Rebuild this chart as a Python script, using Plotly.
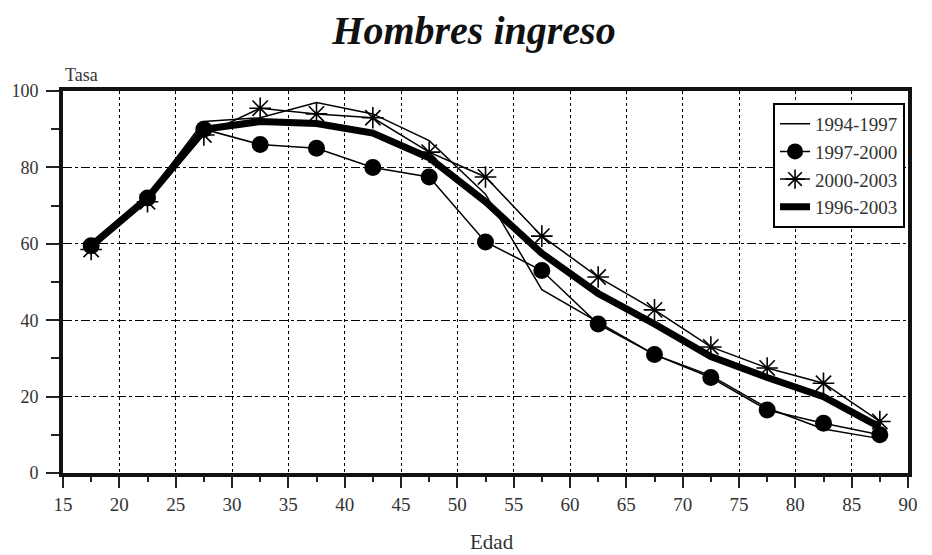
import plotly.graph_objects as go

edad = [17.5, 22.5, 27.5, 32.5, 37.5, 42.5, 47.5, 52.5, 57.5, 62.5, 67.5, 72.5, 77.5, 82.5, 87.5]
s_1994_1997 = [60, 72.5, 92, 93, 97, 94, 87, 73, 48, 39.5, 31, 25.5, 17, 11.5, 9]
s_1997_2000 = [59.5, 72, 90, 86, 85, 80, 77.5, 60.5, 53, 39, 31, 25, 16.5, 13, 10]
s_2000_2003 = [58.5, 71, 88.5, 95.5, 94, 93, 84, 77.5, 62, 51.3, 42.7, 33, 27.5, 23.5, 13.5]
s_1996_2003 = [59.5, 72, 90, 92, 91.5, 89, 82.5, 71, 57.5, 47, 39, 30.5, 25, 20, 12]

x_ticks = [15, 20, 25, 30, 35, 40, 45, 50, 55, 60, 65, 70, 75, 80, 85, 90]
y_ticks = [0, 20, 40, 60, 80, 100]

serif = "Liberation Serif, Times New Roman, serif"

fig = go.Figure()
fig.add_trace(go.Scatter(x=edad, y=s_1994_1997, name="1994-1997", mode="lines",
                         line=dict(color="black", width=1.5)))
fig.add_trace(go.Scatter(x=edad, y=s_1997_2000, name="1997-2000", mode="lines+markers",
                         line=dict(color="black", width=1.5),
                         marker=dict(symbol="circle", size=17, color="black")))
fig.add_trace(go.Scatter(x=edad, y=s_2000_2003, name="2000-2003", mode="lines+markers",
                         line=dict(color="black", width=1.5),
                         marker=dict(symbol="asterisk-open", size=18,
                                     line=dict(color="black", width=1.6))))
fig.add_trace(go.Scatter(x=edad, y=s_1996_2003, name="1996-2003", mode="lines",
                         line=dict(color="black", width=7)))

fig.update_layout(
    width=932, height=555,
    margin=dict(l=55, r=32, t=83, b=90, autoexpand=False),
    paper_bgcolor="white", plot_bgcolor="white",
    font=dict(family=serif, color="#333", size=19),
    title=dict(text="<b><i>Hombres ingreso</i></b>", x=0.5, xanchor="center",
               y=0.96, yanchor="middle",
               font=dict(family=serif, size=40, color="#111")),
    showlegend=True,
    legend=dict(x=0.9965, y=0.969, xanchor="right", yanchor="top",
                bgcolor="white", bordercolor="black", borderwidth=2,
                font=dict(family=serif, size=19, color="#333"),
                itemwidth=30, tracegroupgap=0),
    annotations=[
        dict(text="Tasa", x=0.022, y=1.042, xref="paper", yref="paper",
             xanchor="center", yanchor="middle", showarrow=False,
             font=dict(size=18)),
        dict(text="Edad", x=0.508, y=-0.181, xref="paper", yref="paper",
             xanchor="center", yanchor="middle", showarrow=False,
             font=dict(size=21)),
    ],
)

fig.update_xaxes(range=[15, 90], tickvals=x_ticks, ticks="outside", ticklen=11,
                 tickwidth=2, tickcolor="#222", automargin=False,
                 minor=dict(ticks="outside", dtick=2.5, tick0=15, ticklen=5,
                            tickwidth=2, tickcolor="#222", showgrid=False),
                 showline=True, linecolor="#111", linewidth=4, mirror=True,
                 showgrid=True, gridcolor="black", gridwidth=1.3, griddash="dot",
                 zeroline=False, tickfont=dict(size=19))
fig.update_yaxes(range=[0, 100], tickvals=y_ticks, ticks="outside", ticklen=13,
                 tickwidth=2, tickcolor="#222", automargin=False,
                 minor=dict(ticks="outside", dtick=10, tick0=0, ticklen=8,
                            tickwidth=2, tickcolor="#222", showgrid=False),
                 showline=True, linecolor="#111", linewidth=4, mirror=True,
                 showgrid=True, gridcolor="black", gridwidth=1.3, griddash="dashdot",
                 zeroline=False, tickfont=dict(size=18), ticklabelstandoff=4)

fig.write_html("out.html")
